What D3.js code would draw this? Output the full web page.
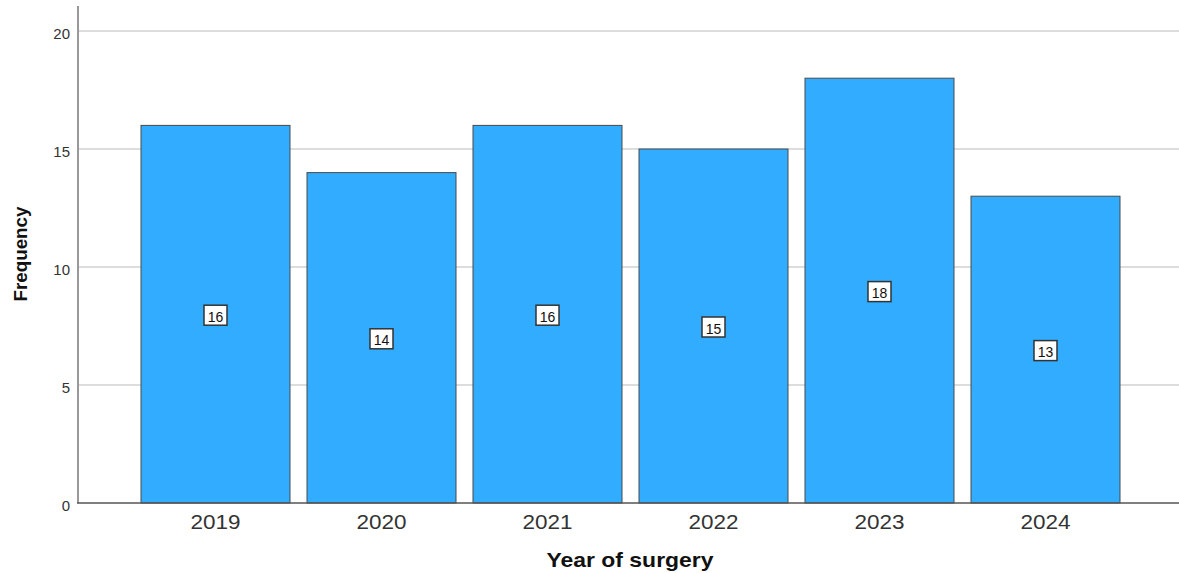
<!DOCTYPE html>
<html><head><meta charset="utf-8">
<script src="https://cdn.jsdelivr.net/npm/d3@7"></script>
<style>body{margin:0;background:#fff;}svg{display:block;font-family:"Liberation Sans",Arial,sans-serif;}</style>
</head><body>
<svg id="c" width="1179" height="573"></svg>
<script>
const years = ["2019","2020","2021","2022","2023","2024"];
const counts = [16,14,16,15,18,13];
const yTicks = [0,5,10,15,20];

const svg = d3.select("#c");
const x0 = 78, xEnd = 1179, yBase = 503, yTop = 6;
const y = d3.scaleLinear().domain([0,20]).range([yBase,31]);
const x = d3.scaleBand().domain(years).range([141,1120]).paddingInner(0.1024).paddingOuter(0);

// gridlines
svg.append("g").selectAll("line").data(yTicks.filter(d=>d>0)).join("line")
  .attr("x1",x0).attr("x2",xEnd).attr("y1",d=>y(d)).attr("y2",d=>y(d))
  .attr("stroke","#d2d2d2").attr("stroke-width",1.5);

// bars
svg.append("g").selectAll("rect").data(counts).join("rect")
  .attr("x",(d,i)=>x(years[i])).attr("width",x.bandwidth())
  .attr("y",d=>y(d)).attr("height",d=>yBase-y(d))
  .attr("fill","#31acff").attr("stroke","#4a4a4a").attr("stroke-width",1);

// y axis
const ya = d3.axisLeft(y).tickValues(yTicks).tickSize(0).tickPadding(8);
const gy = svg.append("g").attr("transform",`translate(${x0},0)`).call(ya);
gy.select(".domain").remove();
gy.selectAll("text").attr("font-size",15).attr("dy","0.47em").attr("fill","#333")
  .attr("font-family","Liberation Sans,Arial,sans-serif");
svg.append("line").attr("x1",x0).attr("x2",x0).attr("y1",yTop).attr("y2",yBase)
  .attr("stroke","#999").attr("stroke-width",2);
// x axis
const xa = d3.axisBottom(x).tickSize(0).tickPadding(11);
const gx = svg.append("g").attr("transform",`translate(0,${yBase})`).call(xa);
gx.select(".domain").remove();
gx.selectAll("text").attr("font-size",21).attr("fill","#333")
  .attr("textLength",50).attr("lengthAdjust","spacingAndGlyphs")
  .attr("font-family","Liberation Sans,Arial,sans-serif");
svg.append("line").attr("x1",x0-1).attr("x2",xEnd).attr("y1",yBase).attr("y2",yBase)
  .attr("stroke","#555").attr("stroke-width",1.5);

// value labels
const lab = svg.append("g").selectAll("g").data(counts).join("g")
  .attr("transform",(d,i)=>`translate(${x(years[i])+x.bandwidth()/2},${y(d/2)+1})`);
lab.append("rect").attr("x",-11.5).attr("y",-10).attr("width",23).attr("height",20)
  .attr("fill","#fff").attr("stroke","#333").attr("stroke-width",1.5);
lab.append("text").attr("text-anchor","middle").attr("y",1.5).attr("dy","0.36em")
  .attr("font-size",14).attr("fill","#111").text(d=>d);

// titles
svg.append("text").attr("x",630).attr("y",566.5).attr("text-anchor","middle")
  .attr("font-size",21).attr("font-weight","bold").attr("fill","#111")
  .attr("textLength",167).attr("lengthAdjust","spacingAndGlyphs").text("Year of surgery");
svg.append("text").attr("transform","translate(26.5,254) rotate(-90)").attr("text-anchor","middle")
  .attr("font-size",19).attr("font-weight","bold").attr("fill","#111")
  .attr("textLength",95).attr("lengthAdjust","spacingAndGlyphs").text("Frequency");
</script>
</body></html>
